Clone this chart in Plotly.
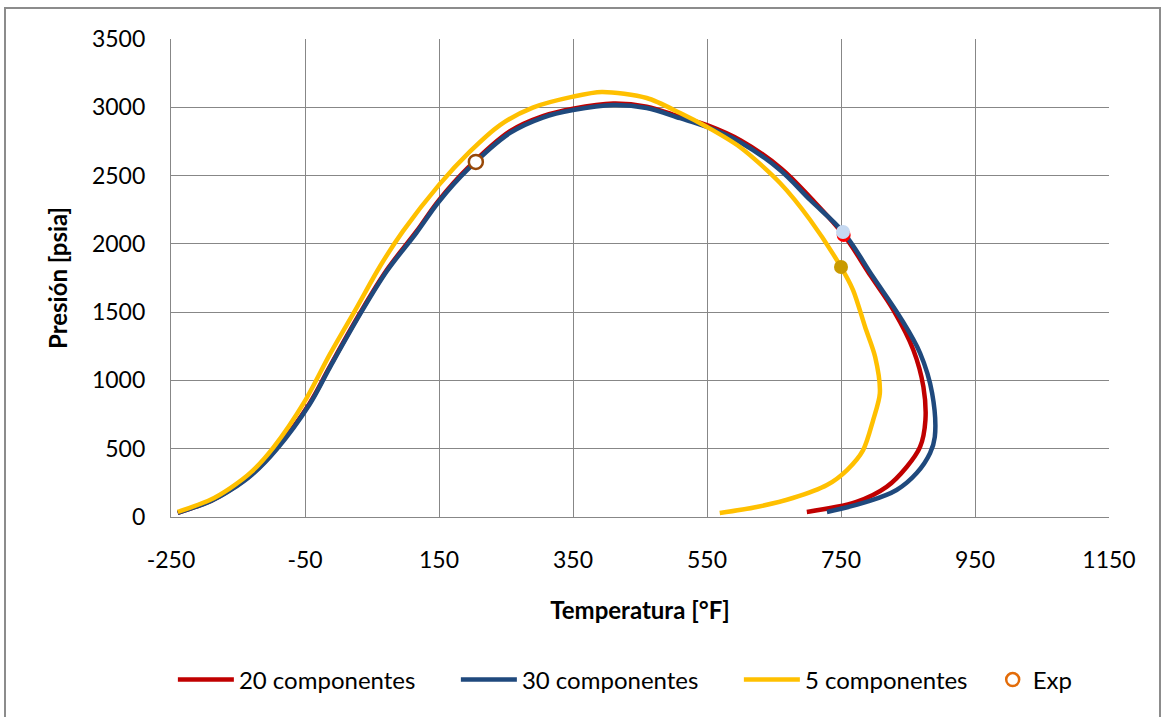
import plotly.graph_objects as go

# Phase envelope (bubble side -> cricondenbar -> dew side), T in °F, P in psia
t_20 = [-240, -190, -160, -128, -92, -43, -13, 32, 72, 116, 150, 193, 256, 305, 350, 410,
        460, 510, 552, 601, 661, 706, 754, 795, 828, 858, 873, 876, 868, 848, 818, 773, 699]
p_20 = [30, 120, 204, 320, 505, 834, 1102, 1492, 1808, 2089, 2320, 2556, 2825, 2935, 2990, 3028,
        3005, 2930, 2866, 2756, 2551, 2330, 2065, 1760, 1516, 1223, 952, 710, 513, 366, 220, 110, 37]

t_30 = [-240, -190, -160, -128, -92, -43, -13, 32, 72, 116, 150, 193, 256, 305, 350, 410,
        460, 510, 550, 599, 659, 704, 753, 798, 838, 868, 886, 890, 883, 863, 833, 788, 729]
p_30 = [30, 118, 200, 315, 498, 826, 1094, 1483, 1799, 2079, 2310, 2545, 2812, 2925, 2980, 3017,
        2995, 2920, 2856, 2746, 2541, 2321, 2087, 1757, 1465, 1200, 907, 586, 469, 322, 198, 110, 37]

t_5 = [-240, -192, -162, -130, -97, -50, -13, 27, 62, 96, 150, 196, 241, 290, 350, 393,
       460, 510, 550, 599, 659, 704, 750, 768, 786, 801, 808, 798, 783, 759, 729, 678, 624, 569]
p_5 = [37, 124, 210, 330, 510, 850, 1191, 1532, 1836, 2091, 2432, 2675, 2870, 2998, 3078, 3112,
       3068, 2958, 2856, 2709, 2446, 2175, 1830, 1662, 1391, 1172, 907, 710, 490, 344, 234, 139, 73, 29]

# Critical points of each model
crit_20 = (754, 2065)
crit_30 = (753, 2087)
crit_5 = (750, 1830)

# Experimental point
t_exp = [205]
p_exp = [2600]

x_ticks = [-250, -50, 150, 350, 550, 750, 950, 1150]
x_tick_text = ["-250", "-50", "150", "350", "550", "750", "950", "1150"]
y_ticks = [0, 500, 1000, 1500, 2000, 2500, 3000, 3500]

FONT = "Lato"
GRID = "#878787"

fig = go.Figure()

fig.add_trace(go.Scatter(x=t_20, y=p_20, mode="lines", name="20 componentes",
                         line=dict(color="#C00000", width=4.5, shape="spline", smoothing=1.0)))
fig.add_trace(go.Scatter(x=t_30, y=p_30, mode="lines", name="30 componentes",
                         line=dict(color="#1F497D", width=4.5, shape="spline", smoothing=1.0)))
fig.add_trace(go.Scatter(x=t_5, y=p_5, mode="lines", name="5 componentes",
                         line=dict(color="#FFC000", width=4.5, shape="spline", smoothing=0.8)))

# critical points
fig.add_trace(go.Scatter(x=[crit_20[0]], y=[crit_20[1]], mode="markers", showlegend=False,
                         marker=dict(color="#FF0000", size=14, line=dict(width=0))))
fig.add_trace(go.Scatter(x=[crit_30[0]], y=[crit_30[1]], mode="markers", showlegend=False,
                         marker=dict(color="#C6D9F1", size=14, line=dict(width=0))))
fig.add_trace(go.Scatter(x=[crit_5[0]], y=[crit_5[1]], mode="markers", showlegend=False,
                         marker=dict(color="#C99A00", size=14, line=dict(width=0))))

# experimental point (plot marker) and its legend entry
fig.add_trace(go.Scatter(x=t_exp, y=p_exp, mode="markers", showlegend=False,
                         marker=dict(color="white", size=14, line=dict(color="#984807", width=2.5))))
fig.add_trace(go.Scatter(x=[None], y=[None], mode="markers", name="Exp", legend="legend2",
                         marker=dict(color="white", size=13, line=dict(color="#E36C09", width=2.5))))

fig.update_layout(
    width=1162, height=717,
    margin=dict(l=171, r=53, t=39, b=200),
    paper_bgcolor="white", plot_bgcolor="white",
    font=dict(family=FONT, size=23, color="black"),
    showlegend=True,
    legend=dict(orientation="h", x=0.002, xanchor="left", y=-0.341, yanchor="middle",
                font=dict(family=FONT, size=24), itemwidth=56,
                entrywidth=212, entrywidthmode="pixels",
                bgcolor="rgba(0,0,0,0)"),
    legend2=dict(orientation="h", x=0.876, xanchor="left", y=-0.341, yanchor="middle",
                 font=dict(family=FONT, size=24), itemwidth=30,
                 bgcolor="rgba(0,0,0,0)"),
    xaxis=dict(range=[-250, 1150], tickvals=x_ticks, ticktext=x_tick_text,
               showgrid=True, gridcolor=GRID, gridwidth=1.3,
               showline=True, linecolor=GRID, linewidth=1.3, mirror=False,
               zeroline=False, ticks="", ticklabelstandoff=22, automargin=False,
               title=dict(text="<b>Temperatura [°F]</b>", font=dict(family=FONT, size=24), standoff=30)),
    yaxis=dict(range=[0, 3500], tickvals=y_ticks,
               showgrid=True, gridcolor=GRID, gridwidth=1.3,
               showline=True, linecolor=GRID, linewidth=1.3,
               zeroline=False, ticks="", ticklabelstandoff=20, automargin=False,
               title=dict(text="<b>Presión [psia]</b>", font=dict(family=FONT, size=24), standoff=17)),
    shapes=[dict(type="rect", xref="paper", yref="paper",
                 x0=(5 - 171) / 938, x1=(1160 - 171) / 938,
                 y0=(517 - 730) / 478, y1=(517 - 8) / 478,
                 line=dict(color="#8C8C8C", width=2), fillcolor="rgba(0,0,0,0)", layer="below")],
)

fig.write_html("out.html")
